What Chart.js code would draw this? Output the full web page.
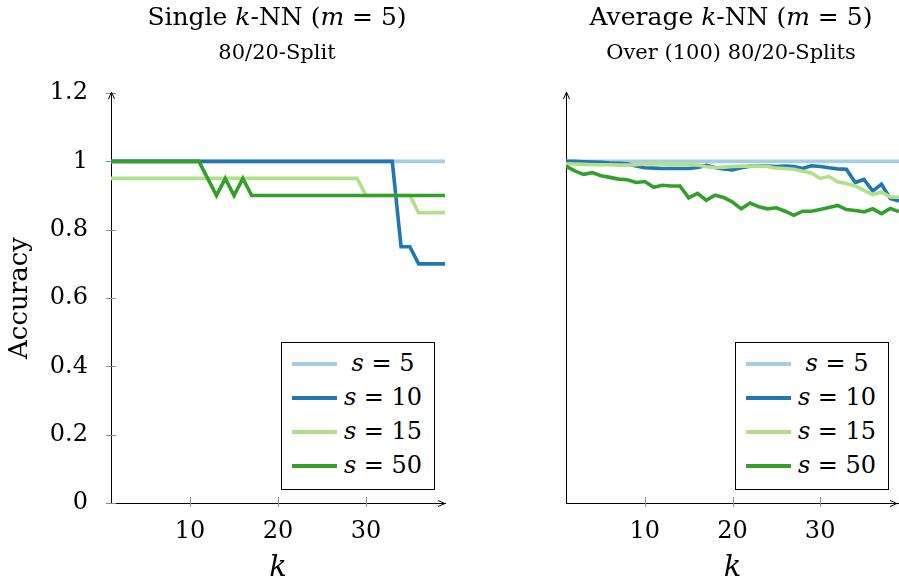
<!DOCTYPE html>
<html>
<head>
<meta charset="utf-8">
<script src="https://cdn.jsdelivr.net/npm/chart.js@4.4.0/dist/chart.umd.min.js"></script>
<style>
  body { margin: 0; background: #fff; width: 899px; height: 586px; overflow: hidden; position: relative; font-family: "DejaVu Serif", serif; color: #000; }
  .panel { position: absolute; top: 0; height: 586px; }
  .panel canvas { position: absolute; left: 0; top: 0; }
  .title, .sub { position: absolute; white-space: nowrap; transform: translateX(-50%); line-height: 1; }
  .title { font-size: 25px; }
  .sub { font-size: 21px; }
  .legend { position: absolute; background: #fff; border: 1px solid #000; box-sizing: border-box; width: 154px; height: 148px; padding-top: 4px; }
  .legend .row { position: relative; height: 34px; }
  .legend .swatch { position: absolute; left: 10px; top: 15px; width: 45px; height: 4px; }
  .legend .txt { position: absolute; left: 101px; top: 2px; transform: translateX(-50%); font-size: 24px; white-space: nowrap; line-height: 28px; }
</style>
</head>
<body>

<div class="panel" style="left:0;width:450px"><canvas id="single" width="450" height="586"></canvas></div>
<div class="panel" style="left:450px;width:449px"><canvas id="average" width="449" height="586"></canvas></div>

<div class="title" style="left:277px;top:4px">Single <i>k</i>-NN (<i>m</i> = 5)</div>
<div class="sub" style="left:277px;top:42px">80/20-Split</div>
<div class="title" style="left:731px;top:4px">Average <i>k</i>-NN (<i>m</i> = 5)</div>
<div class="sub" style="left:731px;top:42px">Over (100) 80/20-Splits</div>

<script>
const k = [1, 2, 3, 4, 5, 6, 7, 8, 9, 10, 11, 12, 13, 14, 15, 16, 17, 18, 19, 20,
           21, 22, 23, 24, 25, 26, 27, 28, 29, 30, 31, 32, 33, 34, 35, 36, 37, 38, 39];
const sValues = [5, 10, 15, 50];
const colors = ['#a6cee3', '#1f78b4', '#b2df8a', '#33a02c'];
const xTickValues = [10, 20, 30];
const yTickValues = [0, 0.2, 0.4, 0.6, 0.8, 1, 1.2];

// single 80/20 split
const singleS5 = [1, 1, 1, 1, 1, 1, 1, 1, 1, 1, 1, 1, 1, 1, 1, 1, 1, 1, 1, 1,
                  1, 1, 1, 1, 1, 1, 1, 1, 1, 1, 1, 1, 1, 1, 1, 1, 1, 1, 1];
const singleS10 = [1, 1, 1, 1, 1, 1, 1, 1, 1, 1, 1, 1, 1, 1, 1, 1, 1, 1, 1, 1,
                   1, 1, 1, 1, 1, 1, 1, 1, 1, 1, 1, 1, 1, 0.75, 0.75, 0.7, 0.7, 0.7, 0.7];
const singleS15 = [0.95, 0.95, 0.95, 0.95, 0.95, 0.95, 0.95, 0.95, 0.95, 0.95, 0.95, 0.95, 0.95, 0.95, 0.95, 0.95, 0.95, 0.95, 0.95, 0.95,
                   0.95, 0.95, 0.95, 0.95, 0.95, 0.95, 0.95, 0.95, 0.95, 0.9, 0.9, 0.9, 0.9, 0.9, 0.9, 0.85, 0.85, 0.85, 0.85];
const singleS50 = [1, 1, 1, 1, 1, 1, 1, 1, 1, 1, 1, 0.95, 0.9, 0.95, 0.9, 0.95, 0.9, 0.9, 0.9, 0.9,
                   0.9, 0.9, 0.9, 0.9, 0.9, 0.9, 0.9, 0.9, 0.9, 0.9, 0.9, 0.9, 0.9, 0.9, 0.9, 0.9, 0.9, 0.9, 0.9];

// average over 100 splits
const avgS5 = [1, 1, 1, 1, 1, 1, 1, 1, 1, 1, 1, 1, 1, 1, 1, 1, 1, 1, 1, 1,
               1, 1, 1, 1, 1, 1, 1, 1, 1, 1, 1, 1, 1, 1, 1, 1, 1, 1, 1];
const avgS10 = [1.0, 1.0, 0.999, 0.998, 0.997, 0.995, 0.994, 0.993, 0.986, 0.981,
                0.980, 0.979, 0.979, 0.979, 0.979, 0.982, 0.988, 0.982, 0.978, 0.975,
                0.981, 0.986, 0.987, 0.986, 0.985, 0.986, 0.985, 0.979, 0.987, 0.985,
                0.981, 0.978, 0.977, 0.938, 0.947, 0.913, 0.933, 0.891, 0.884];
const avgS15 = [0.993, 0.992, 0.991, 0.990, 0.990, 0.990, 0.989, 0.989, 0.990, 0.992,
                0.993, 0.992, 0.991, 0.991, 0.991, 0.989, 0.984, 0.982, 0.983, 0.985,
                0.986, 0.986, 0.986, 0.985, 0.980, 0.979, 0.977, 0.971, 0.966, 0.950,
                0.956, 0.940, 0.935, 0.928, 0.915, 0.903, 0.910, 0.896, 0.895];
const avgS50 = [0.986, 0.972, 0.962, 0.967, 0.958, 0.953, 0.948, 0.946, 0.938, 0.941,
                0.924, 0.930, 0.928, 0.928, 0.893, 0.906, 0.886, 0.901, 0.894, 0.881,
                0.861, 0.878, 0.867, 0.861, 0.864, 0.854, 0.842, 0.854, 0.854, 0.859,
                0.865, 0.871, 0.859, 0.856, 0.852, 0.861, 0.847, 0.862, 0.853];

// pgfplots-like axis decoration: crossing ticks and arrow heads
const axisMarks = {
  id: 'axisMarks',
  beforeDatasetsDraw(chart, args, opts) {
    const { ctx, chartArea: a, scales: { x, y } } = chart;
    ctx.save();
    ctx.strokeStyle = '#8c8c8c';
    ctx.lineWidth = 1;
    ctx.beginPath();
    x.ticks.forEach(t => {
      const px = Math.round(x.getPixelForValue(t.value)) + 0.5;
      ctx.moveTo(px, a.bottom - 6);
      ctx.lineTo(px, a.bottom + 4);
    });
    if (opts.yTicks) {
      y.ticks.forEach(t => {
        const py = Math.round(y.getPixelForValue(t.value)) + 0.5;
        ctx.moveTo(a.left - 5, py);
        ctx.lineTo(a.left + 5, py);
      });
    }
    ctx.stroke();

    ctx.strokeStyle = '#000';
    ctx.lineWidth = 1;
    ctx.beginPath();
    const lx = Math.round(a.left) + 0.5;
    ctx.moveTo(lx - 3, a.top + 6); ctx.lineTo(lx, a.top - 1); ctx.lineTo(lx + 3, a.top + 6);
    const by = Math.round(a.bottom) + 0.5;
    const rx = Math.min(a.right, chart.width - 2);
    ctx.moveTo(rx - 7, by - 3); ctx.lineTo(rx, by); ctx.lineTo(rx - 7, by + 3);
    ctx.stroke();
    ctx.restore();
  }
};

function makeChart(id, series, showY, yWidth, padRight) {
  return new Chart(document.getElementById(id), {
    type: 'line',
    data: {
      datasets: series.map((vals, i) => ({
        label: 's = ' + sValues[i],
        data: k.map((kv, j) => ({ x: kv, y: vals[j] })),
        borderColor: colors[i],
        backgroundColor: colors[i],
        borderWidth: 3.6,
        pointRadius: 0,
        tension: 0,
        borderJoinStyle: 'miter',
        order: series.length - 1 - i   // later series drawn on top
      }))
    },
    options: {
      responsive: false,
      animation: false,
      layout: { padding: { top: 93, right: padRight, bottom: 0, left: 0 } },
      plugins: {
        legend: { display: false },
        tooltip: { enabled: false },
        axisMarks: { yTicks: showY }
      },
      scales: {
        x: {
          type: 'linear',
          min: 1,
          max: 39,
          afterBuildTicks: s => { s.ticks = xTickValues.map(v => ({ value: v })); },
          afterFit: s => { s.height = 83; },
          grid: { display: false },
          border: { display: true, color: '#000', width: 1 },
          ticks: { color: '#000', padding: 6, font: { family: 'DejaVu Serif', size: 24 } },
          title: {
            display: true, text: 'k', color: '#000',
            font: { family: 'DejaVu Serif', size: 29, style: 'italic' },
            padding: { top: 0, bottom: 0 }
          }
        },
        y: {
          min: 0,
          max: 1.2,
          afterBuildTicks: s => { s.ticks = yTickValues.map(v => ({ value: v })); },
          afterFit: s => { s.width = yWidth; },
          grid: { display: false },
          border: { display: true, color: '#000', width: 1 },
          ticks: {
            display: showY, color: '#000', padding: 15,
            font: { family: 'DejaVu Serif', size: 24 },
            callback: v => String(v)
          },
          title: {
            display: showY, text: 'Accuracy', color: '#000',
            font: { family: 'DejaVu Serif', size: 26 },
            padding: { top: 5, bottom: 0 }
          }
        }
      }
    },
    plugins: [axisMarks]
  });
}

function addLegend(chart, panelLeft) {
  const a = chart.chartArea;
  const box = document.createElement('div');
  box.className = 'legend';
  box.style.left = (panelLeft + a.right - 10 - 154) + 'px';
  box.style.top = (a.bottom - 13 - 148) + 'px';
  chart.data.datasets.forEach((ds, i) => {
    const row = document.createElement('div');
    row.className = 'row';
    row.innerHTML = '<div class="swatch" style="background:' + ds.borderColor + '"></div>' +
      '<div class="txt"><i>s</i> = ' + sValues[i] + '</div>';
    box.appendChild(row);
  });
  document.body.appendChild(box);
}

const single = makeChart('single', [singleS5, singleS10, singleS15, singleS50], true, 111, 5);
const average = makeChart('average', [avgS5, avgS10, avgS15, avgS50], false, 116, 0);
addLegend(single, 0);
addLegend(average, 450);
</script>
</body>
</html>
